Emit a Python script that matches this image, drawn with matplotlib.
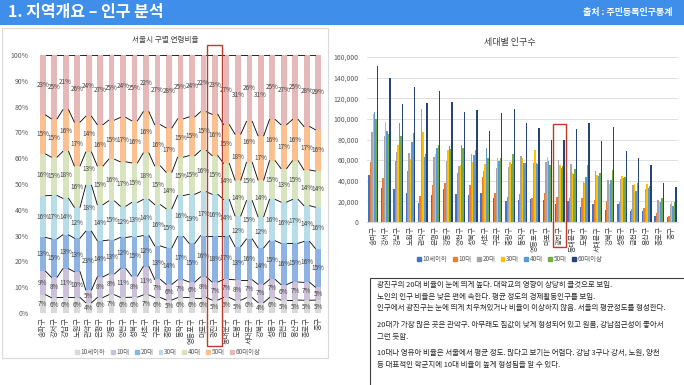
import numpy as np
import matplotlib
matplotlib.use("Agg")
import matplotlib.pyplot as plt
from matplotlib.patches import Rectangle, Patch

plt.rcParams['font.family'] = ['Noto Sans CJK KR', 'DejaVu Sans']

# ---------------------------------------------------------------
# data
# ---------------------------------------------------------------
districts = ["송파구", "강서구", "강남구", "노원구", "관악구", "은평구", "강동구",
             "양천구", "성북구", "서초구", "구로구", "중랑구", "동작구", "영등포구",
             "마포구", "광진구", "동대문구", "도봉구", "서대문구", "강북구", "성동구",
             "금천구", "용산구", "종로구", "중구"]
age_groups = ["10세이하", "10대", "20대", "30대", "40대", "50대", "60대이상"]

# left chart: share of each age group (%)
pct_u10 = [7, 6, 6, 6, 4, 6, 7, 6, 6, 7, 6, 5, 6, 6, 6, 5, 6, 5, 6, 4, 6, 5, 5, 5, 5]
pct_10s = [9, 8, 11, 10, 5, 8, 8, 11, 8, 11, 7, 6, 7, 6, 8, 7, 7, 8, 7, 7, 7, 6, 7, 7, 5]
pct_20s = [13, 15, 13, 13, 23, 14, 13, 12, 15, 12, 13, 14, 17, 15, 16, 18, 17, 13, 16, 14, 15, 16, 15, 16, 15]
pct_30s = [16, 17, 14, 12, 18, 14, 15, 12, 13, 14, 16, 15, 16, 19, 17, 16, 14, 12, 15, 12, 16, 16, 17, 14, 16]
pct_40s = [16, 15, 18, 16, 13, 15, 16, 17, 15, 18, 15, 14, 15, 15, 16, 15, 14, 14, 15, 14, 15, 13, 15, 14, 14]
pct_50s = [15, 15, 16, 17, 14, 16, 15, 17, 16, 16, 16, 17, 15, 15, 15, 16, 15, 18, 16, 17, 16, 17, 16, 17, 16]
pct_60p = [23, 25, 21, 26, 24, 27, 25, 24, 25, 22, 27, 28, 25, 24, 22, 23, 27, 31, 26, 31, 25, 27, 25, 28, 29]

# right chart: population by age group
pop_u10 = [46000, 33000, 32000, 28000, 18000, 26000, 32000, 27000, 26000, 28000, 23000, 20000, 21000,
           22000, 21000, 17000, 20000, 15000, 17000, 12000, 17000, 11000, 11000, 6000, 5000]
pop_10s = [58000, 43000, 59000, 49000, 25000, 36000, 38000, 48000, 36000, 44000, 28000, 24000, 27000,
           23000, 28000, 24000, 23000, 23000, 21000, 20000, 19000, 13000, 14000, 9000, 6000]
pop_20s = [87000, 83000, 68000, 67000, 110000, 63000, 59000, 54000, 66000, 49000, 52000, 53000, 64000,
           57000, 58000, 60000, 56000, 39000, 49000, 41000, 42000, 36000, 32000, 21000, 17000]
pop_30s = [105000, 97000, 75000, 61000, 87000, 66000, 70000, 55000, 58000, 56000, 62000, 58000, 62000,
           70000, 63000, 55000, 48000, 38000, 46000, 37000, 45000, 37000, 37000, 19000, 19000]
pop_40s = [107000, 88000, 96000, 78000, 63000, 72000, 74000, 75000, 65000, 72000, 59000, 56000, 57000,
           57000, 59000, 52000, 47000, 44000, 45000, 41000, 43000, 30000, 33000, 19000, 16000]
pop_50s = [100000, 85000, 83000, 86000, 66000, 75000, 71000, 72000, 70000, 62000, 62000, 66000, 57000,
           56000, 55000, 54000, 51000, 55000, 48000, 50000, 44000, 38000, 35000, 23000, 19000]
pop_60p = [151000, 140000, 114000, 131000, 115000, 127000, 116000, 107000, 109000, 88000, 106000, 110000,
           96000, 91000, 80000, 80000, 90000, 96000, 79000, 92000, 69000, 62000, 55000, 38000, 34000]

memo_lines = [
    "광진구의 20대 비율이 눈에 띄게 높다. 대학교의 영향이 상당히 클것으로 보임.",
    "노인의 인구 비율은 낮은 편에 속한다. 평균 정도의 경제활동인구를 보임.",
    "인구에서 광진구는 눈에 띄게 치우쳐있거나 비율이 이상하지 않음. 서울의 평균정도를 형성한다.",
    "20대가 가장 많은 곳은 관악구. 아무래도 집값이 낮게 형성되어 있고 원룸, 강남접근성이 좋아서",
    "그런 듯함.",
    "10대나 영유아 비율은 서울에서 평균 정도. 많다고 보기는 어렵다. 강남 3구나 강서, 노원, 양천",
    "등 대표적인 학군지에 10대 비율이 높게 형성됨을 알 수 있다.",
]
memo_y = [285, 297, 308, 325, 337, 353, 365]

highlight = 15  # 광진구

# ---------------------------------------------------------------
# layout helpers (pixel coordinates, origin top-left)
# ---------------------------------------------------------------
W, H = 684, 385
fig = plt.figure(figsize=(W / 100, H / 100), dpi=100)


def fx(x):
    return x / W


def fy(y):
    return 1 - y / H


def axes_px(x0, y0, x1, y1):
    return fig.add_axes([x0 / W, 1 - y1 / H, (x1 - x0) / W, (y1 - y0) / H])


def rect_px(x0, y0, x1, y1, **kw):
    r = Rectangle((fx(x0), fy(y1)), (x1 - x0) / W, (y1 - y0) / H,
                  transform=fig.transFigure, **kw)
    fig.patches.append(r)
    return r


# header banner
rect_px(0, 0, W, 25, facecolor="#3f8fea", edgecolor="none", zorder=0)
fig.text(fx(8), fy(12.5), "1. 지역개요 – 인구 분석", color="white", fontsize=11.5,
         fontweight="bold", va="center", ha="left")
fig.text(fx(672), fy(12.5), "출처 : 주민등록인구통계", color="white", fontsize=6.5,
         fontweight="bold", va="center", ha="right")

# left chart frame
rect_px(2, 28, 328, 358, facecolor="none", edgecolor="#d9d9d9", lw=0.8, zorder=0)

# ---------------------------------------------------------------
# left chart: 100% stacked bars
# ---------------------------------------------------------------
left_colors = ["#d9d9d9", "#ccc1da", "#8db3e2", "#b7dde8", "#d7e4bd", "#fac090", "#e6b9b8"]
pct = np.array([pct_u10, pct_10s, pct_20s, pct_30s, pct_40s, pct_50s, pct_60p], dtype=float)
share = pct / pct.sum(axis=0) * 100

ax1 = axes_px(37, 55, 324, 313)
x = np.arange(len(districts))
bw = 0.5
bottom = np.zeros(len(districts))
tops = [bottom.copy()]
for k in range(len(age_groups)):
    ax1.bar(x, share[k], bw, bottom=bottom, color=left_colors[k], edgecolor="none", zorder=2)
    for i in range(len(districts)):
        ax1.text(x[i], bottom[i] + share[k][i] / 2, f"{int(pct[k][i])}%", ha="center",
                 va="center", fontsize=4.6, color="#404040", zorder=4)
    bottom = bottom + share[k]
    tops.append(bottom.copy())

# series lines between the bars
for t in tops[1:]:
    for i in range(len(districts) - 1):
        ax1.plot([x[i] + bw / 2, x[i + 1] - bw / 2], [t[i], t[i + 1]], color="black",
                 lw=0.6, zorder=3)

ax1.set_xlim(-0.5, len(districts) - 0.5)
ax1.set_ylim(0, 100)
ax1.set_yticks(np.arange(0, 101, 10))
ax1.set_yticklabels([f"{v}%" for v in range(0, 101, 10)])
ax1.set_xticks(x)
ax1.set_xticklabels(districts, rotation=90, fontsize=5.2, color="#404040")
ax1.tick_params(axis="y", labelsize=5, labelcolor="#595959", length=0, pad=6)
ax1.tick_params(axis="x", length=0, pad=3)
for s in ax1.spines.values():
    s.set_visible(False)

fig.text(fx(165), fy(40), "서울시 구별 연령비율", ha="center", va="center", fontsize=5.5,
         color="#404040")
fig.legend(handles=[Patch(color=c, label=l) for c, l in zip(left_colors, age_groups)],
           loc="center", bbox_to_anchor=(fx(168), fy(352)), ncol=7, frameon=False,
           fontsize=4.6, handlelength=0.6, handleheight=0.6, handletextpad=0.3,
           columnspacing=0.8, labelcolor="#595959")

rect_px(207, 45, 222, 346, facecolor="none", edgecolor="#c0392b", lw=1.0, zorder=5)

# ---------------------------------------------------------------
# right chart: grouped bars
# ---------------------------------------------------------------
right_colors = ["#4472c4", "#ed7d31", "#a5a5a5", "#ffc000", "#5b9bd5", "#70ad47", "#264478"]
pops = [pop_u10, pop_10s, pop_20s, pop_30s, pop_40s, pop_50s, pop_60p]

ax2 = axes_px(367, 57, 678, 222)
gw = 0.112
for k, vals in enumerate(pops):
    ax2.bar(x + (k - 3) * gw, vals, gw, color=right_colors[k], edgecolor="none", zorder=2)

ax2.set_xlim(-0.5, len(districts) - 0.5)
ax2.set_ylim(0, 160000)
ax2.set_yticks(np.arange(0, 160001, 20000))
ax2.set_yticklabels([f"{v:,}" for v in range(0, 160001, 20000)])
ax2.grid(axis="y", color="#d9d9d9", lw=0.6, zorder=0)
ax2.set_xticks(x)
ax2.set_xticklabels(districts, rotation=90, fontsize=5, color="#404040")
ax2.tick_params(axis="y", labelsize=5, labelcolor="#595959", length=0, pad=6)
ax2.tick_params(axis="x", length=0, pad=3)
for s in ax2.spines.values():
    s.set_visible(False)
ax2.spines["bottom"].set_visible(True)
ax2.spines["bottom"].set_color("#d9d9d9")

fig.text(fx(510), fy(42), "세대별 인구수", ha="center", va="center", fontsize=6.5,
         color="#404040")
fig.legend(handles=[Patch(color=c, label=l) for c, l in zip(right_colors, age_groups)],
           loc="center", bbox_to_anchor=(fx(510), fy(259)), ncol=7, frameon=False,
           fontsize=4.6, handlelength=0.6, handleheight=0.6, handletextpad=0.3,
           columnspacing=0.8, labelcolor="#595959")

rect_px(553, 124, 566, 247, facecolor="none", edgecolor="#c0392b", lw=1.0, zorder=5)

# ---------------------------------------------------------------
# memo box
# ---------------------------------------------------------------
rect_px(370, 278, 700, 400, facecolor="white", edgecolor="#404040", lw=0.8, zorder=1)
for line, y in zip(memo_lines, memo_y):
    fig.text(fx(377), fy(y), line, ha="left", va="center", fontsize=5.4, color="#262626")

fig.savefig("out.png", dpi=100)
